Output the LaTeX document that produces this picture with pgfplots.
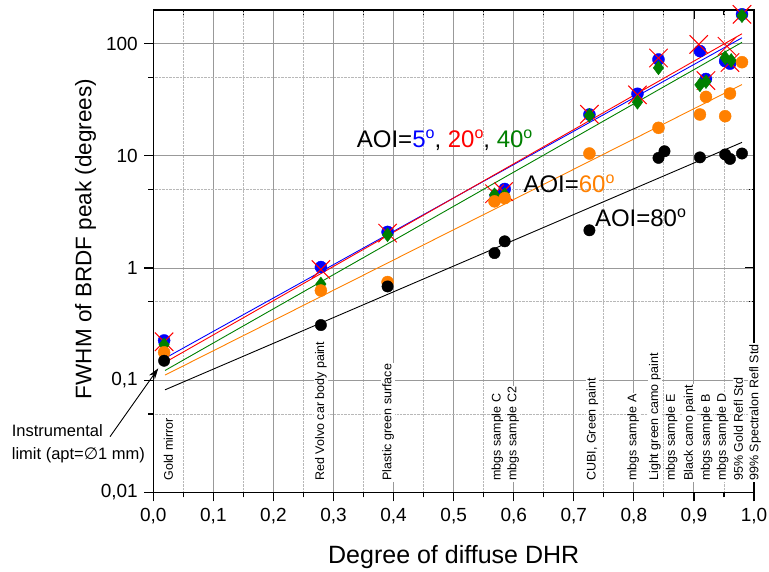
\documentclass[border=0pt]{standalone}
\usepackage{pgfplots}
\pgfplotsset{compat=1.18}
\usetikzlibrary{arrows.meta}
\usepackage{fontspec}
\setmainfont{Liberation Sans}
\newfontfamily\dejavu{DejaVu Sans}
\definecolor{cblue}{RGB}{0,0,255}
\definecolor{cred}{RGB}{255,0,0}
\definecolor{cgreen}{RGB}{0,128,0}
\definecolor{corange}{RGB}{255,128,0}
\newcommand\px[2]{([shift={({(#1-153.3)*1pt},{(492.3-#2)*1pt})}]ax.south west)}
\newcommand\fs[1]{\fontsize{#1}{#1}\selectfont}
\newcommand\dg{\raisebox{9pt}{\fs{16}o}}
\newcommand\lab[2]{\node[rotate=90, anchor=west, fill=white, inner sep=1pt, font=\fs{12.5}] at (axis cs:#1,0.0124) {#2};}
\begin{document}
\begin{tikzpicture}
% top/right inside ticks
\begin{axis}[
 name=ax, scale only axis, width=600.7pt, height=482.3pt,
 xmin=0, xmax=1, ymin=0.01, ymax=200, ymode=log,
 xtick={0,0.1,0.2,0.3,0.4,0.5,0.6,0.7,0.8,0.9,1},
 minor xtick={0.05,0.15,0.25,0.35,0.45,0.55,0.65,0.75,0.85,0.95},
 ytick={0.01,0.1,1,10,100}, minor ytick={0.05,0.5,5,50},
 xticklabels={}, yticklabels={},
 xtick pos=right, ytick pos=right, tick align=inside,
 major tick length=9pt, minor tick length=5pt,
 every tick/.style={black, line width=1.2pt},
 axis line style={line width=1.5pt},
]
\end{axis}
\begin{axis}[
 at={(ax.south west)}, anchor=south west,
 scale only axis, width=600.7pt, height=482.3pt,
 xmin=0, xmax=1, ymin=0.01, ymax=200, ymode=log,
 xtick={0,0.1,0.2,0.3,0.4,0.5,0.6,0.7,0.8,0.9,1},
 xticklabels={{0,0},{0,1},{0,2},{0,3},{0,4},{0,5},{0,6},{0,7},{0,8},{0,9},{1,0}},
 minor xtick={0.05,0.15,0.25,0.35,0.45,0.55,0.65,0.75,0.85,0.95},
 ytick={0.01,0.1,1,10,100}, yticklabels={{0,01},{0,1},{1},{10},{100}},
 minor ytick={0.05,0.5,5,50},
 xtick pos=left, ytick pos=left, tick align=outside,
 major tick length=9pt, minor tick length=5pt,
 every tick/.style={black, line width=1.2pt},
 axis line style={line width=1.5pt},
 grid=both,
 major grid style={draw=black!40, line width=0.9pt},
 minor grid style={draw=black!28, densely dotted, line width=0.8pt},
 tick label style={font=\fs{19}},
 xticklabel style={yshift=-3pt},
 yticklabel style={xshift=-3pt},
 clip=false,
]
% fits
\addplot[cblue, line width=0.9pt] coordinates {(0.0195,0.157) (0.98,113)};
\addplot[cred, line width=0.9pt] coordinates {(0.0195,0.144) (0.98,122.8)};
\addplot[cgreen, line width=0.9pt] coordinates {(0.0195,0.122) (0.98,103)};
\addplot[corange, line width=0.9pt] coordinates {(0.0195,0.111) (0.98,43.3)};
\addplot[black, line width=0.9pt] coordinates {(0.0195,0.082) (0.98,13.2)};
% AOI 5
\addplot[only marks, mark=*, mark size=6pt, cblue, mark options={fill=cblue, draw=cblue}] coordinates {
(0.018,0.226) (0.279,1.02) (0.390,2.1) (0.570,4.4) (0.585,5.07) (0.726,23.4) (0.806,35.8)
(0.841,72.4) (0.910,86) (0.920,48.5) (0.952,70) (0.960,66.5) (0.980,183)};
% AOI 20
\addplot[only marks, mark=x, mark size=13pt, cred, mark options={line width=1pt}] coordinates {
(0.018,0.22) (0.279,0.97) (0.390,2.05) (0.568,4.6) (0.583,4.8) (0.726,23.5) (0.806,35)
(0.841,74.6) (0.908,98.6) (0.920,47) (0.955,95) (0.960,68) (0.980,183)};
% AOI 40
\addplot[only marks, mark=diamond*, mark size=7pt, cgreen, mark options={fill=cgreen, draw=cgreen}] coordinates {
(0.018,0.207) (0.279,0.72) (0.390,1.98) (0.568,4.5) (0.585,4.5) (0.726,23) (0.806,30.1)
(0.841,61) (0.910,43) (0.920,46) (0.952,75) (0.962,71) (0.980,178)};
% AOI 60
\addplot[only marks, mark=*, mark size=6pt, corange, mark options={fill=corange, draw=corange}] coordinates {
(0.018,0.177) (0.279,0.63) (0.390,0.75) (0.568,3.93) (0.585,4.2) (0.726,10.5) (0.841,17.8)
(0.910,23.4) (0.920,33.6) (0.952,22.6) (0.960,36) (0.980,68.5)};
% AOI 80
\addplot[only marks, mark=*, mark size=5.7pt, black, mark options={fill=black, draw=black}] coordinates {
(0.018,0.149) (0.279,0.31) (0.390,0.685) (0.568,1.36) (0.585,1.73) (0.726,2.17) (0.841,9.6)
(0.851,11.0) (0.910,9.7) (0.952,10.3) (0.960,9.4) (0.980,10.5)};
% material labels
\lab{0.025}{Gold mirror}
\lab{0.279}{Red Volvo car body paint}
\lab{0.391}{Plastic green surface}
\lab{0.573}{mbgs sample C}
\lab{0.599}{mbgs sample C2}
\lab{0.731}{CUBI, Green paint}
\lab{0.799}{mbgs sample A}
\lab{0.835}{Light green camo paint}
\lab{0.863}{mbgs sample E}
\lab{0.893}{Black camo paint}
\lab{0.921}{mbgs sample B}
\lab{0.948}{mbgs sample D}
\lab{0.974}{95\% Gold Refl Std}
\lab{1.002}{99\% Spectralon Refl Std}
% AOI annotations
\node[anchor=base west, inner sep=0pt, font=\fs{24}] at (axis cs:0.3386,11.79)
 {AOI=\textcolor{cblue}{5\dg}, \textcolor{cred}{20\dg}, \textcolor{cgreen}{40\dg}};
\node[anchor=base west, inner sep=0pt, font=\fs{24}] at (axis cs:0.616,4.73)
 {AOI=\textcolor{corange}{60\dg}};
\node[anchor=base west, inner sep=0pt, font=\fs{24}] at (axis cs:0.735,2.35)
 {AOI=80\dg};
\end{axis}
% axis titles and outside annotation
\node[anchor=base, inner sep=0pt, font=\fs{25}] at \px{453.7}{563.3} {Degree of diffuse DHR};
\node[anchor=base, rotate=90, inner sep=0pt, font=\fs{22.5}] at \px{91.5}{239} {FWHM of BRDF peak (degrees)};
\node[anchor=base west, inner sep=0pt, font=\fs{16.5}] at \px{11.7}{436} {Instrumental};
\node[anchor=base west, inner sep=0pt, font=\fs{16.5}] at \px{11.7}{459.3} {limit (apt={\dejavu ∅}1 mm)};
\draw[line width=0.9pt, -{Stealth[length=11pt,width=7pt]}] \px{110}{436.7} -- \px{158.3}{368.3};
\pgfresetboundingbox
\path[use as bounding box] \px{0}{0} rectangle \px{769}{571};
\end{tikzpicture}
\end{document}
